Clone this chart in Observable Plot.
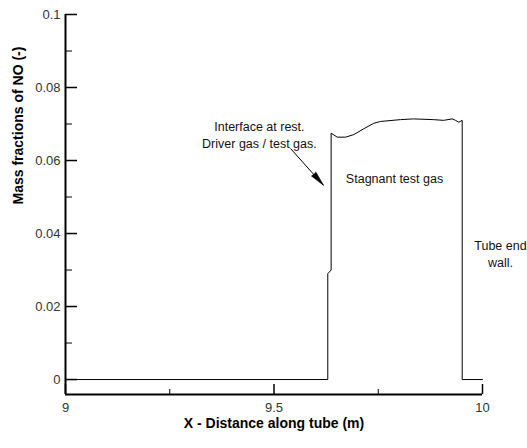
<!DOCTYPE html>
<html><head><meta charset="utf-8">
<script src="https://cdn.jsdelivr.net/npm/d3@7"></script>
<script src="https://cdn.jsdelivr.net/npm/@observablehq/plot@0.6"></script>
<style>
body{margin:0;background:#fff}
#chart svg{display:block;font-family:"Liberation Sans",Arial,Helvetica,sans-serif}
</style>
</head><body><div id="chart"></div>
<script>
// Profile of NO mass fraction along the tube
const xPos = [9, 9.629, 9.629, 9.637, 9.637, 9.6516, 9.6715, 9.6914, 9.7153, 9.7393, 9.7554, 9.8034, 9.8345, 9.8825, 9.9065, 9.9273, 9.9353, 9.9432, 9.9513, 9.9513, 10];
const noFrac = [0, 0, 0.029, 0.030, 0.0675, 0.0664, 0.0664, 0.0671, 0.0687, 0.0702, 0.0707, 0.0712, 0.0714, 0.0712, 0.0710, 0.0714, 0.0710, 0.0705, 0.0710, 0, 0];

// Axis settings
const xDomain = [9, 10];
const yBottom = -0.0041;   // axis frame extends a little below zero
const yTop = 0.1;
const xMajor = [9, 9.5, 10];
const xMinor = [9.25, 9.75];
const yMajor = [0, 0.02, 0.04, 0.06, 0.08, 0.1];
const yMinor = [0.01, 0.03, 0.05, 0.07, 0.09];
const xTitle = "X - Distance along tube (m)";
const yTitle = "Mass fractions of NO (-)";

// Annotations (data coordinates)
const notes = [
  {x: 9.465, y: 0.0673, text: "Interface at rest.\nDriver gas / test gas."},
  {x: 9.789, y: 0.0553, text: "Stagnant test gas"},
  {x: 10.043, y: 0.0347, text: "Tube end\nwall."}
];
const arrows = [{x1: 9.5396, y1: 0.0633, x2: 9.6187, y2: 0.0532}];

const data = xPos.map((x, i) => ({x, y: noFrac[i]}));
const fmtY = d => d === 0 ? "0" : d3.format("")(+d.toFixed(2));
const fmtX = d => String(d);

const chart = Plot.plot({
  width: 527,
  height: 448,
  marginLeft: 65,
  marginRight: 45,
  marginTop: 14,
  marginBottom: 54,
  style: {fontFamily: "'Liberation Sans', Arial, Helvetica, sans-serif", background: "#fff"},
  x: {domain: xDomain},
  y: {domain: [yBottom, yTop]},
  marks: [
    // frame lines
    Plot.ruleX([xDomain[0]], {y1: yBottom, y2: yTop, stroke: "black", strokeWidth: 2}),
    Plot.ruleY([yBottom], {x1: xDomain[0], x2: xDomain[1], stroke: "black", strokeWidth: 2}),
    // y axis
    Plot.axisY(yMajor, {anchor: "left", tickSize: -12, tickPadding: 17, tickFormat: fmtY, fontSize: 13, fill: "#333", stroke: "black", strokeWidth: 1.5}),
    Plot.axisY(yMinor, {anchor: "left", tickSize: -7, tickPadding: 0, tickFormat: () => "", stroke: "black", strokeWidth: 1}),
    // x axis
    Plot.axisX(xMajor, {anchor: "bottom", tickSize: -10, tickPadding: 18, tickFormat: fmtX, fontSize: 13, fill: "#333", stroke: "black", strokeWidth: 1.5}),
    Plot.axisX(xMinor, {anchor: "bottom", tickSize: -5, tickPadding: 0, tickFormat: () => "", stroke: "black", strokeWidth: 1}),
    // data line
    Plot.line(data, {x: "x", y: "y", stroke: "black", strokeWidth: 1}),
    // annotations
    Plot.link(arrows, {x1: "x1", y1: "y1", x2: "x2", y2: "y2", stroke: "black", strokeWidth: 1}),
    Plot.vector(arrows, {x: "x2", y: "y2", anchor: "end", shape: "spike", length: 15, r: 3, rotate: 139, fill: "black", stroke: "black", strokeWidth: 0.5}),
    Plot.text(notes, {x: "x", y: "y", text: "text", fontSize: 12.5, lineHeight: 1.4, textAnchor: "middle", lineAnchor: "middle", fill: "#111"}),
    // axis titles
    Plot.text([xTitle], {frameAnchor: "bottom", dy: 29, fontSize: 14, fontWeight: "bold", fill: "black", lineAnchor: "middle"}),
    Plot.text([yTitle], {frameAnchor: "left", dx: -47, rotate: -90, fontSize: 14, fontWeight: "bold", fill: "black", lineAnchor: "middle"})
  ]
});
document.getElementById("chart").appendChild(chart);
</script>
</body></html>
